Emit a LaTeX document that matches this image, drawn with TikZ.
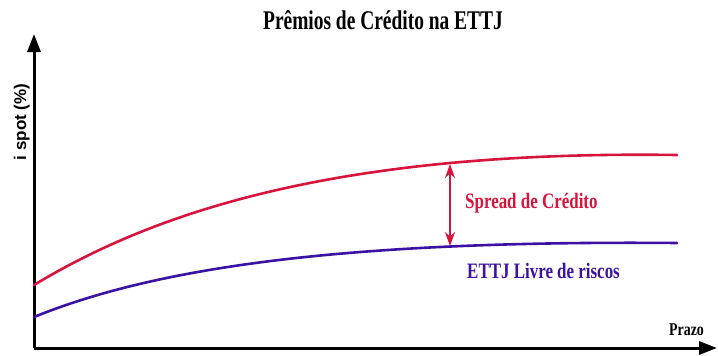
\documentclass[tikz,border=0pt]{standalone}
\usepackage{fontspec}
\usepackage{xcolor}
\usetikzlibrary{arrows.meta}
\setmainfont{Liberation Serif}
\newfontfamily\titlefont[FakeStretch=0.72]{Liberation Serif}
\newfontfamily\labelfont[FakeStretch=0.77]{Liberation Serif}
\newfontfamily\axisfont{Liberation Sans}
\definecolor{spreadRed}{HTML}{D7143C}
\definecolor{riskfreeBlue}{HTML}{3B12A3}

\begin{document}
\begin{tikzpicture}[
    x=1pt, y=-1pt,
    axis/.style={-{Triangle[length=18pt,width=13pt]}, line width=3pt},
    curve/.style={line width=2.6pt, line cap=round},
    spread/.style={{Stealth[length=14pt,width=10pt]}-{Stealth[length=14pt,width=10pt]}, line width=2.2pt, color=spreadRed},
    label/.style={font=\labelfont\bfseries\fontsize{22}{24}\selectfont, inner sep=0pt}
]
\useasboundingbox (0,0) rectangle (718,356);

% axes
\coordinate (origin) at (34,348);
\coordinate (ytip) at (34,34);
\coordinate (xtip) at (717,348);
\draw[axis] (origin) -- (ytip);
\draw[axis] (origin) -- (xtip);

\node[font=\titlefont\bfseries\fontsize{27}{30}\selectfont, inner sep=0pt, anchor=base] (title) at (383,30) {Prêmios de Crédito na ETTJ};
\node[font=\axisfont\bfseries\fontsize{17}{19}\selectfont, inner sep=0pt, rotate=90, anchor=base] (ylabel) at (26,122) {i spot (\%)};
\node[font=\labelfont\bfseries\fontsize{18}{20}\selectfont, inner sep=0pt, anchor=base west] (xlabel) at (669,335) {Prazo};

% curves
\coordinate (redstart) at (34,285);
\coordinate (redend) at (677,155);
\coordinate (bluestart) at (34,317);
\coordinate (blueend) at (677,243);
\draw[curve, spreadRed] (redstart) .. controls (150,215) and (330,150) .. (redend);
\draw[curve, riskfreeBlue] (bluestart) .. controls (150,270) and (330,240) .. (blueend);

\coordinate (spreadtop) at (450,164);
\coordinate (spreadbot) at (450,246);
\draw[spread] (spreadtop) -- (spreadbot);
\node[label, text=spreadRed, anchor=base west] (spreadlbl) at (465,208) {Spread de Crédito};
\node[label, text=riskfreeBlue, anchor=base west] (ettjlbl) at (467,278) {ETTJ Livre de riscos};

\end{tikzpicture}
\end{document}
